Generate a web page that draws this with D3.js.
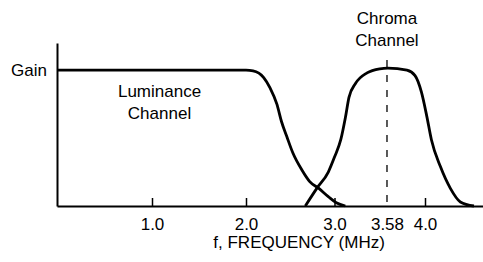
<!DOCTYPE html>
<html>
<head>
<meta charset="utf-8">
<script src="https://cdn.jsdelivr.net/npm/d3@7"></script>
<style>
  html, body { margin: 0; padding: 0; background: #fff; }
  svg { display: block; }
  text { font-family: "Liberation Sans", Arial, Helvetica, sans-serif; fill: #000; }
</style>
</head>
<body>
<svg id="chart" width="483" height="262"></svg>
<script>
// ---- data ----
const tickValues = [1, 2, 3, 3.58, 4];
const tickLabels = ["1.0", "2.0", "3.0", "3.58", "4.0"];
const chromaCenter = 3.58;
const gainLevel = 1;
const yLabel = "Gain";
const xLabel = "f, FREQUENCY (MHz)";

// Luminance channel response (MHz, relative gain)
const lumFreq = [0, 2.0, 2.08, 2.20, 2.27, 2.35, 2.40, 2.46, 2.53, 2.63, 2.72, 2.82, 2.93, 3.02, 3.12];
const lumGain = [1, 1, 0.995, 0.946, 0.872, 0.748, 0.624, 0.513, 0.390, 0.267, 0.180, 0.131, 0.069, 0.024, 0];

// Chroma channel response (MHz, relative gain)
const chromaFreq = [2.67, 2.80, 2.93, 3.00, 3.07, 3.12, 3.16, 3.23, 3.36, 3.50, 3.59, 3.80, 3.89, 3.96, 4.02, 4.07, 4.17, 4.28, 4.39, 4.54];
const chromaGain = [0, 0.13, 0.25, 0.36, 0.49, 0.65, 0.80, 0.90, 0.98, 1.01, 1.015, 1.0, 0.96, 0.84, 0.66, 0.49, 0.29, 0.13, 0.03, 0.0];

const labels = [
  { lines: ["Luminance", "Channel"], f: 1.08, g: 0.80 },
  { lines: ["Chroma", "Channel"], f: 3.58, g: 1.34 }
];

// ---- layout ----
const svg = d3.select("#chart");
const x = d3.scaleLinear()
  .domain([0, 1, 2, 3, 4, 4.64])
  .range([57, 152, 246, 334.5, 425, 483]);
const y = d3.scaleLinear().domain([0, 1.2]).range([206, 43]);

// x axis
const xAxis = svg.append("g")
  .attr("transform", `translate(0,${y(0)})`)
  .call(d3.axisBottom(x)
    .tickValues(tickValues)
    .tickFormat((d, i) => tickLabels[i])
    .tickSizeInner(-8)
    .tickSizeOuter(0));
xAxis.select(".domain").attr("stroke", "#000").attr("stroke-width", 2);
xAxis.selectAll(".tick line").attr("stroke", "#000").attr("stroke-width", 1.5)
  .attr("opacity", d => d === chromaCenter ? 0 : 1);
xAxis.selectAll(".tick text")
  .attr("y", 24).attr("dy", 0)
  .style("font-size", "17px").attr("fill", "#000");

// y axis
const yAxis = svg.append("g")
  .attr("transform", `translate(${x(0)},0)`)
  .call(d3.axisLeft(y)
    .tickValues([gainLevel])
    .tickFormat(() => yLabel)
    .tickSize(0)
    .tickPadding(10));
yAxis.select(".domain").attr("stroke", "#000").attr("stroke-width", 2);
yAxis.selectAll(".tick text").style("font-size", "17px").attr("fill", "#000");

// x axis title
svg.append("text")
  .attr("x", x(2.6))
  .attr("y", 248)
  .attr("text-anchor", "middle")
  .style("font-size", "17px")
  .text(xLabel);

// dashed center line
svg.append("line")
  .attr("x1", x(chromaCenter)).attr("x2", x(chromaCenter))
  .attr("y1", y(1.075)).attr("y2", y(0))
  .attr("stroke", "#000").attr("stroke-width", 1.3)
  .attr("stroke-dasharray", "7,8");

// curves
const line = d3.line()
  .x(d => x(d[0])).y(d => y(d[1]))
  .curve(d3.curveMonotoneX);

svg.append("path")
  .datum(lumFreq.map((f, i) => [f, lumGain[i]]))
  .attr("d", line)
  .attr("fill", "none").attr("stroke", "#000").attr("stroke-width", 2.8);

svg.append("path")
  .datum(chromaFreq.map((f, i) => [f, chromaGain[i]]))
  .attr("d", line)
  .attr("fill", "none").attr("stroke", "#000").attr("stroke-width", 2.8);

// channel labels
labels.forEach(l => {
  const t = svg.append("text")
    .attr("text-anchor", "middle")
    .style("font-size", "17px");
  l.lines.forEach((s, i) => {
    t.append("tspan")
      .attr("x", x(l.f))
      .attr("y", y(l.g) + i * 22)
      .text(s);
  });
});
</script>
</body>
</html>
